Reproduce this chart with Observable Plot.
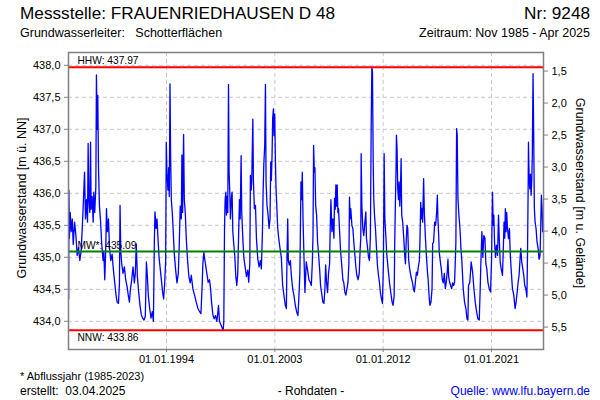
<!DOCTYPE html>
<html>
<head>
<meta charset="utf-8">
<script src="https://cdn.jsdelivr.net/npm/d3@7"></script>
<script src="https://cdn.jsdelivr.net/npm/@observablehq/plot@0.6"></script>
<style>
  html, body { margin: 0; padding: 0; background: #fff; }
  #wrap { position: relative; width: 600px; height: 400px; font-family: 'Liberation Sans', Arial, sans-serif; color: #000; overflow: hidden; }
  .t { position: absolute; white-space: pre; }
  #chart { position: absolute; left: 0; top: 40px; }
</style>
</head>
<body>
<div id="wrap">
  <div class="t" style="left:20px;top:4px;font-size:17.2px;line-height:19px;">Messstelle: FRAUENRIEDHAUSEN D 48</div>
  <div class="t" style="right:10px;top:4px;font-size:17.2px;line-height:19px;">Nr: 9248</div>
  <div class="t" style="left:20px;top:26px;font-size:12.5px;line-height:14px;">Grundwasserleiter:   Schotterflächen</div>
  <div class="t" style="right:10px;top:26px;font-size:12.5px;line-height:14px;">Zeitraum: Nov 1985 - Apr 2025</div>
  <div id="chart"></div>
  <div class="t" style="left:20px;top:370px;font-size:11px;line-height:13px;">* Abflussjahr (1985-2023)</div>
  <div class="t" style="left:20px;top:384px;font-size:12px;line-height:14px;">erstellt:  03.04.2025</div>
  <div class="t" style="left:311px;top:384px;font-size:12px;line-height:14px;transform:translateX(-50%);">- Rohdaten -</div>
  <div class="t" style="right:10px;top:384px;font-size:12px;line-height:14px;color:#0000ff;">Quelle: www.lfu.bayern.de</div>
</div>
<script>
// ---- reference levels ----
const hhw = 437.97, mw = 435.09, nnw = 433.86;
const groundLevel = 439.41;
const leftTicks = [434.0, 434.5, 435.0, 435.5, 436.0, 436.5, 437.0, 437.5, 438.0];
const depthTicks = [1.5, 2.0, 2.5, 3.0, 3.5, 4.0, 4.5, 5.0, 5.5];
const xTickLabels = ["1994-01-01", "2003-01-01", "2012-01-01", "2021-01-01"];
const xDomain = ["1985-11-10", "2025-04-27"];

// ---- series: decimal year / level [m ü. NN] ----
const tA = [1985.87,1985.89,1985.93,1986.00,1986.08,1986.17,1986.25,1986.36,1986.47,1986.58,1986.69,1986.80,1986.91,1987.00,1987.08,1987.19,1987.27,1987.35,1987.44,1987.49,1987.55,1987.63,1987.69,1987.74,1987.82,1987.91,1987.96,1988.04,1988.13,1988.18,1988.24,1988.29,1988.35,1988.43,1988.51,1988.62,1988.73,1988.79,1988.87,1988.96,1989.01,1989.09,1989.18,1989.26,1989.37,1989.48,1989.59,1989.70,1989.81,1989.90,1990.01,1990.09,1990.14,1990.20,1990.28,1990.39,1990.50,1990.61,1990.72,1990.83,1990.92,1991.00,1991.11,1991.22,1991.33,1991.41,1991.49,1991.58,1991.69,1991.80,1991.91,1992.02,1992.13,1992.24,1992.33,1992.41,1992.49,1992.60,1992.71,1992.82,1992.91,1992.99,1993.04,1993.13,1993.21,1993.29,1993.38,1993.49,1993.60,1993.68,1993.76,1993.85,1993.93,1993.98,1994.04,1994.12,1994.18,1994.23,1994.29,1994.34,1994.40,1994.48,1994.56,1994.65,1994.76,1994.87,1994.98,1995.06,1995.14,1995.23,1995.28,1995.34,1995.42,1995.48,1995.56,1995.64,1995.75,1995.86,1995.97];
const vA = [434.35,436.05,435.30,435.70,435.40,435.60,435.20,435.55,435.35,435.03,435.15,434.95,435.10,435.45,435.80,436.33,435.60,435.90,435.55,436.78,435.90,435.70,436.80,435.75,435.95,435.55,436.02,435.70,436.10,437.85,437.00,437.53,436.40,435.80,435.60,435.20,434.95,435.10,434.65,435.20,435.76,435.40,435.60,435.15,434.95,435.05,434.80,434.60,434.40,434.30,434.28,434.60,435.81,435.10,434.90,434.75,434.85,434.65,434.55,434.40,434.30,434.50,434.65,434.85,434.60,434.75,435.21,434.70,434.45,434.25,434.10,434.05,434.02,434.08,434.93,434.70,434.40,434.20,434.05,434.15,434.00,435.25,435.71,435.45,435.60,435.30,435.00,434.80,434.60,434.45,434.35,434.60,434.95,436.80,436.30,436.05,436.40,435.95,437.71,436.60,435.90,435.70,435.40,435.05,434.80,434.60,434.75,435.20,435.80,435.60,436.60,435.70,436.92,435.90,435.70,435.30,434.95,434.70,434.60];

const tB = [1996.06,1996.19,1996.33,1996.47,1996.61,1996.75,1996.86,1996.97,1997.02,1997.10,1997.19,1997.27,1997.35,1997.46,1997.57,1997.66,1997.74,1997.85,1997.96,1998.07,1998.18,1998.27,1998.32,1998.40,1998.51,1998.62,1998.71,1998.76,1998.82,1998.87,1998.93,1998.98,1999.04,1999.09,1999.15,1999.20,1999.26,1999.31,1999.40,1999.45,1999.51,1999.59,1999.67,1999.76,1999.84,1999.92,2000.01,2000.06,2000.12,2000.20,2000.25,2000.34,2000.42,2000.53,2000.64,2000.75,2000.83,2000.92,2000.97,2001.03,2001.08,2001.17,2001.22,2001.30,2001.39,2001.47,2001.58,2001.69,2001.80,2001.88,2001.97,2002.02,2002.08,2002.16,2002.22,2002.27,2002.35,2002.44,2002.52,2002.60,2002.66,2002.71,2002.77,2002.82,2002.88,2002.93,2002.99,2003.04,2003.10,2003.15,2003.24,2003.32,2003.43,2003.54,2003.65,2003.76,2003.87,2003.96,2004.01,2004.07,2004.12,2004.20,2004.29,2004.37,2004.48,2004.59,2004.70,2004.81,2004.92,2005.00,2005.08,2005.17,2005.23,2005.28,2005.34,2005.42,2005.50,2005.61,2005.72,2005.83];
const vB = [434.72,434.51,434.41,434.30,434.20,434.15,434.12,434.61,434.90,435.08,434.95,434.85,434.75,434.61,434.65,434.51,434.30,434.10,434.04,434.09,434.00,434.15,434.25,434.00,433.95,433.90,433.86,434.00,435.45,435.90,436.02,435.66,435.95,435.70,437.70,436.33,436.00,435.60,435.95,436.02,435.40,435.20,435.03,434.70,434.56,434.75,435.50,435.90,435.60,436.59,435.70,435.30,435.00,434.85,434.70,434.80,434.61,434.90,436.28,436.05,436.18,437.16,436.20,435.76,435.81,435.30,434.98,434.85,434.95,434.82,435.40,435.97,436.44,436.75,437.70,436.18,435.81,435.66,435.45,435.60,436.49,436.20,436.60,437.17,437.32,436.90,437.24,436.59,436.07,435.86,435.45,435.30,435.14,435.00,434.56,434.40,434.25,434.20,435.00,435.60,434.95,434.88,434.95,434.72,434.51,434.40,434.25,434.15,434.09,434.40,434.75,436.18,435.90,436.33,435.60,435.00,434.45,434.93,434.80,434.65];

const tC = [2005.94,2006.03,2006.11,2006.17,2006.22,2006.28,2006.33,2006.39,2006.47,2006.55,2006.64,2006.72,2006.80,2006.91,2006.99,2007.08,2007.16,2007.22,2007.30,2007.38,2007.46,2007.55,2007.60,2007.66,2007.74,2007.82,2007.91,2007.96,2008.02,2008.07,2008.13,2008.18,2008.24,2008.29,2008.38,2008.46,2008.57,2008.65,2008.73,2008.82,2008.90,2008.98,2009.07,2009.15,2009.20,2009.26,2009.31,2009.40,2009.48,2009.56,2009.65,2009.73,2009.81,2009.92,2010.01,2010.09,2010.14,2010.17,2010.23,2010.31,2010.39,2010.48,2010.56,2010.61,2010.70,2010.78,2010.86,2010.94,2011.00,2011.06,2011.11,2011.17,2011.22,2011.28,2011.36,2011.44,2011.52,2011.61,2011.69,2011.77,2011.86,2011.94,2012.02,2012.08,2012.14,2012.22,2012.30,2012.41,2012.52,2012.63,2012.74,2012.82,2012.91,2012.96,2013.02,2013.07,2013.10,2013.15,2013.21,2013.27,2013.32,2013.38,2013.43,2013.49,2013.54,2013.62,2013.71,2013.79,2013.85,2013.90,2013.98,2014.04,2014.12,2014.20,2014.31,2014.43,2014.51,2014.59,2014.67,2014.76,2014.84,2014.92,2015.01,2015.06,2015.12,2015.17,2015.23,2015.28,2015.36,2015.42,2015.50,2015.59,2015.67,2015.75,2015.83];
const vC = [434.61,434.56,434.90,435.34,436.75,436.33,436.40,435.81,435.66,435.24,435.03,434.82,434.56,434.41,434.30,434.28,434.50,434.88,434.60,434.45,434.75,434.90,435.45,435.90,435.40,435.60,435.30,435.92,435.75,436.13,435.80,436.13,435.70,435.76,435.40,435.10,434.85,434.65,434.60,434.45,434.41,434.50,434.60,434.90,435.94,435.60,435.76,435.50,435.45,435.24,435.03,434.85,434.72,434.65,434.75,435.14,435.30,436.62,435.81,435.45,435.34,435.55,435.71,435.30,435.15,435.00,434.95,435.34,436.96,437.97,437.90,436.50,435.90,435.66,435.45,435.16,434.88,434.72,434.61,434.45,434.35,434.28,434.90,436.62,435.60,435.34,435.05,434.82,434.61,434.45,434.30,434.25,434.40,435.24,435.92,436.40,436.91,436.70,436.07,435.90,436.18,435.80,436.02,436.54,435.66,435.55,435.30,435.03,434.90,435.20,435.50,435.45,434.95,434.82,434.70,434.61,434.51,434.46,434.60,434.77,434.72,434.85,434.95,435.30,435.86,435.60,435.76,435.55,436.23,435.70,435.34,435.03,434.80,434.61,434.35];

const tD = [2015.89,2015.97,2016.06,2016.11,2016.19,2016.28,2016.36,2016.44,2016.50,2016.55,2016.61,2016.66,2016.75,2016.83,2016.91,2016.99,2017.08,2017.16,2017.24,2017.33,2017.38,2017.44,2017.52,2017.60,2017.69,2017.77,2017.85,2017.93,2017.99,2018.04,2018.10,2018.15,2018.21,2018.29,2018.38,2018.46,2018.54,2018.65,2018.76,2018.87,2018.96,2019.04,2019.09,2019.20,2019.31,2019.43,2019.54,2019.65,2019.76,2019.87,2019.98,2020.06,2020.12,2020.20,2020.28,2020.36,2020.45,2020.53,2020.61,2020.70,2020.81,2020.92,2021.00,2021.08,2021.14,2021.19,2021.25,2021.33,2021.41,2021.50,2021.58,2021.64,2021.72,2021.80,2021.91,2021.99,2022.04,2022.10,2022.15,2022.21,2022.26,2022.33,2022.41,2022.49,2022.55,2022.63,2022.74,2022.85,2022.96,2023.04,2023.13,2023.21,2023.29,2023.38,2023.43,2023.51,2023.60,2023.68,2023.76,2023.85,2023.94,2023.99,2024.05,2024.07,2024.12,2024.18,2024.23,2024.29,2024.34,2024.39,2024.45,2024.51,2024.56,2024.62,2024.70,2024.78,2024.87,2024.95,2025.03,2025.08,2025.14,2025.20,2025.25];
const vD = [434.25,434.30,434.51,435.21,435.24,435.55,435.50,435.70,435.97,435.60,435.35,435.08,434.93,434.82,434.65,434.60,434.75,434.51,434.61,434.80,434.97,434.70,434.61,434.56,434.51,434.60,434.56,434.61,434.93,435.24,437.01,436.91,435.92,435.66,435.45,435.14,434.93,434.51,434.30,434.20,434.04,434.02,434.56,434.61,434.93,434.77,434.51,434.30,434.15,434.04,434.02,434.50,434.93,435.40,435.00,435.34,435.30,434.90,434.82,434.61,434.51,434.46,434.95,436.02,435.50,435.66,435.24,435.00,435.19,435.03,435.66,435.30,434.93,434.82,434.72,435.20,435.55,435.30,435.76,435.40,435.70,435.45,435.29,435.45,435.08,434.82,434.51,434.41,434.20,434.30,434.45,434.61,434.72,435.00,435.14,434.93,434.82,434.72,434.56,434.51,434.38,435.03,436.20,436.80,436.28,436.07,436.30,435.97,436.18,436.60,437.87,436.80,435.76,435.55,435.45,435.24,435.14,434.97,435.03,435.40,435.97,435.76,435.40];

// ---- helpers ----
const yearToDate = t => {
  const y = Math.floor(t);
  const s = Date.UTC(y, 0, 1), e = Date.UTC(y + 1, 0, 1);
  return new Date(s + (t - y) * (e - s));
};
const times = [...tA, ...tB, ...tC, ...tD];
const levels = [...vA, ...vB, ...vC, ...vD];
const data = times.map((t, i) => ({date: yearToDate(t), level: levels[i]}));
const xTicks = xTickLabels.map(s => new Date(s + "T00:00:00Z"));
const fmt = v => v.toFixed(1).replace(".", ",");
const fmtDate = d3.utcFormat("%d.%m.%Y");
const grid = {stroke: "#c8c8c8", strokeOpacity: 1, strokeDasharray: "4,3"};
const font = "'Liberation Sans', Arial, sans-serif";

const chart = Plot.plot({
  width: 600,
  height: 335,
  marginTop: 12,
  marginBottom: 26,
  marginLeft: 68,
  marginRight: 57,
  style: {fontFamily: font, fontSize: "11px", background: "white", color: "black", overflow: "visible"},
  x: {type: "utc", domain: xDomain.map(s => new Date(s + "T00:00:00Z"))},
  y: {domain: [433.56, 438.2]},
  marks: [
    Plot.gridY(leftTicks, grid),
    Plot.gridX(xTicks, grid),
    Plot.line(data, {x: "date", y: "level", stroke: "#0000ff", strokeWidth: 1.3}),
    Plot.ruleY([hhw, nnw], {stroke: "#ff0000", strokeWidth: 2}),
    Plot.ruleY([mw], {stroke: "#008000", strokeWidth: 2}),
    Plot.text([hhw], {y: d => d, text: d => "HHW: " + d.toFixed(2), frameAnchor: "left", textAnchor: "start", dx: 9, dy: -6, fill: "black", fontSize: 10.2}),
    Plot.text([mw], {y: d => d, text: d => "MW*: " + d.toFixed(2), frameAnchor: "left", textAnchor: "start", dx: 9, dy: -6, fill: "black", fontSize: 10.2}),
    Plot.text([nnw], {y: d => d, text: d => "NNW: " + d.toFixed(2), frameAnchor: "left", textAnchor: "start", dx: 9, dy: 7, fill: "black", fontSize: 10.2}),
    Plot.frame({stroke: "#808080", strokeWidth: 1.5}),
    Plot.axisY(leftTicks, {anchor: "left", tickSize: 4, tickPadding: 4, tickFormat: fmt, label: null, stroke: "#808080"}),
    Plot.axisY(depthTicks.map(d => groundLevel - d), {anchor: "right", tickSize: 4, tickPadding: 4, tickFormat: v => fmt(groundLevel - v), label: null, stroke: "#808080"}),
    Plot.axisX(xTicks, {tickSize: 3, tickPadding: 3, tickFormat: fmtDate, label: null, stroke: "#808080"}),
    Plot.text(["Grundwasserstand [m ü. NN]"], {frameAnchor: "left", textAnchor: "middle", rotate: -90, dx: -47, dy: -3, fontSize: 12.5, fill: "black"}),
    Plot.text(["Grundwasserstand [m u. Gelände]"], {frameAnchor: "right", textAnchor: "middle", rotate: 90, dx: 36, dy: -8, fontSize: 12.5, fill: "black"})
  ]
});
document.getElementById("chart").appendChild(chart);
</script>
</body>
</html>
